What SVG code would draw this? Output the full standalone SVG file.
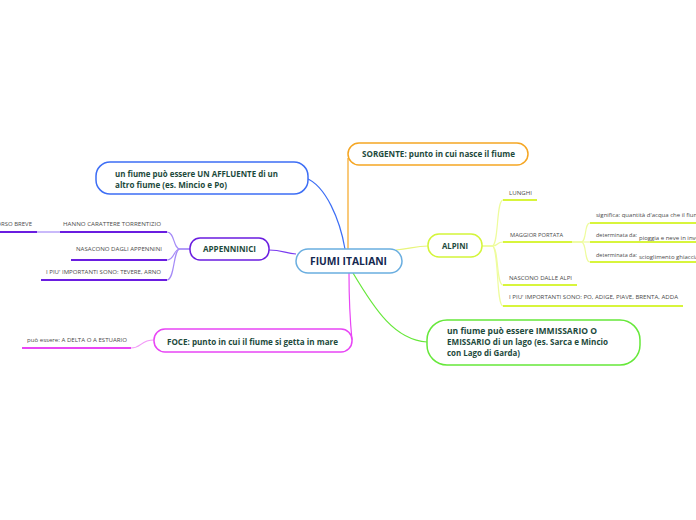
<svg xmlns="http://www.w3.org/2000/svg" width="696" height="520" viewBox="0 0 696 520">
<style>
.node{fill:#fff;stroke-width:1.5}
.t{font-family:"Open Sans","Liberation Sans",sans-serif;font-weight:bold;fill:#1d4a3c;font-size:8.5px}
.c{font-family:"Open Sans","Liberation Sans",sans-serif;font-weight:bold;fill:#14284f;font-size:10px}
.s{font-family:"Open Sans","Liberation Sans",sans-serif;fill:#4a4a4a;font-size:6px}
.conn{fill:none;stroke-width:1.2}
.ul{fill:none;stroke-width:2}
</style>
<rect width="696" height="520" fill="#fff"/>
<g id="connectors">
<path class="conn" stroke="#3d6ef5" stroke-width="1.5" d="M306,178 C326,186 340,220 345,249"/>
<path class="conn" stroke="#f5a623" stroke-width="1.5" d="M348,249 V158"/>
<path class="conn" stroke="#7b3cf0" d="M269,250 C282,250 285,253 296,254"/>
<path class="conn" stroke="#e8f57a" d="M396,250 C410,249 415,246 428,246"/>
<path class="conn" stroke="#66e83a" stroke-width="1.5" d="M353,273 C375,310 395,340 427,342"/>
<path class="conn" stroke="#e845f5" stroke-width="1.5" d="M349,273 C349,300 351,330 352,340"/>
<path class="conn" stroke="#a58bf7" d="M190,249 H180 C173,249 175,232 167,232"/>
<path class="conn" stroke="#a58bf7" d="M190,249 H180 C173,249 175,260 167,260"/>
<path class="conn" stroke="#a58bf7" d="M190,249 H180 C173,249 175,280 167,280"/>
<path class="conn" stroke="#a58bf7" d="M60,232 H37"/>
<path class="conn" stroke="#eefc9c" d="M482,246 H492 C499,246 496,200 503,200"/>
<path class="conn" stroke="#eefc9c" d="M482,246 H492 C499,246 496,242 503,242"/>
<path class="conn" stroke="#eefc9c" d="M482,246 H492 C499,246 496,285 503,285"/>
<path class="conn" stroke="#eefc9c" d="M482,246 H492 C499,246 496,306 503,306"/>
<path class="conn" stroke="#eefc9c" d="M572,242 H581 C587,242 584,223 590,223"/>
<path class="conn" stroke="#eefc9c" d="M572,242 H590"/>
<path class="conn" stroke="#eefc9c" d="M572,242 H581 C587,242 584,262 590,262"/>
<path class="conn" stroke="#f29af7" d="M154,340 C140,340 142,348 131,348"/>
</g>
<g id="n-center">
<rect class="node" stroke="#6aaee0" x="296" y="249" width="106" height="24" rx="12"/>
<text class="c" x="310" y="265" textLength="77" lengthAdjust="spacingAndGlyphs">FIUMI ITALIANI</text>
</g>
<g id="n-sorgente">
<rect class="node" stroke="#f5a623" x="348" y="143" width="180" height="22" rx="11"/>
<text class="t" x="362" y="157" textLength="153" lengthAdjust="spacingAndGlyphs">SORGENTE: punto in cui nasce il fiume</text>
</g>
<g id="n-affluente">
<rect class="node" stroke="#3d6ef5" x="96" y="162" width="212" height="32" rx="14"/>
<text class="t" x="115" y="177" textLength="163" lengthAdjust="spacingAndGlyphs">un fiume può essere UN AFFLUENTE di un</text>
<text class="t" x="115" y="188" textLength="112" lengthAdjust="spacingAndGlyphs">altro fiume (es. Mincio e Po)</text>
</g>
<g id="n-appennini">
<rect class="node" stroke="#6a1de0" x="190" y="238" width="79" height="22" rx="10"/>
<text class="t" x="203" y="252" textLength="53" lengthAdjust="spacingAndGlyphs">APPENNINICI</text>
</g>
<g id="n-app-1">
<path class="ul" stroke="#6a1de0" d="M60,232 H167"/>
<text class="s" x="63" y="226" textLength="98" lengthAdjust="spacingAndGlyphs">HANNO CARATTERE TORRENTIZIO</text>
</g>
<g id="n-app-1a">
<path class="ul" stroke="#6a1de0" d="M0,232 H37"/>
<text class="s" x="32" y="226" text-anchor="end">CORSO BREVE</text>
</g>
<g id="n-app-2">
<path class="ul" stroke="#6a1de0" d="M71,260 H167"/>
<text class="s" x="76" y="251" textLength="86" lengthAdjust="spacingAndGlyphs">NASACONO DAGLI APPENNINI</text>
</g>
<g id="n-app-3">
<path class="ul" stroke="#6a1de0" d="M41,280 H167"/>
<text class="s" x="46" y="274" textLength="115" lengthAdjust="spacingAndGlyphs">I PIU' IMPORTANTI SONO: TEVERE, ARNO</text>
</g>
<g id="n-alpini">
<rect class="node" stroke="#d4f53a" x="428" y="234" width="54" height="23" rx="11"/>
<text class="t" x="442" y="249" textLength="26" lengthAdjust="spacingAndGlyphs">ALPINI</text>
</g>
<g id="n-alp-1">
<path class="ul" stroke="#d8f53c" d="M503,200 H537"/>
<text class="s" x="509" y="195" textLength="23" lengthAdjust="spacingAndGlyphs">LUNGHI</text>
</g>
<g id="n-alp-2">
<path class="ul" stroke="#d8f53c" d="M503,242 H572"/>
<text class="s" x="510" y="237" textLength="53" lengthAdjust="spacingAndGlyphs">MAGGIOR PORTATA</text>
</g>
<g id="n-alp-2a">
<path class="ul" stroke="#d8f53c" d="M590,223 H696"/>
<text class="s" x="596" y="217" font-size="5.5">significa: quantità d'acqua che il fiume porta</text>
</g>
<g id="n-alp-2b">
<path class="ul" stroke="#d8f53c" d="M590,242 H696"/>
<text class="s" x="596" y="237" textLength="41" lengthAdjust="spacingAndGlyphs">determinata da:</text>
<text class="s" x="639" y="240">pioggia e neve in inverno</text>
</g>
<g id="n-alp-2c">
<path class="ul" stroke="#d8f53c" d="M590,262 H696"/>
<text class="s" x="596" y="257" textLength="41" lengthAdjust="spacingAndGlyphs">determinata da:</text>
<text class="s" x="639" y="259">scioglimento ghiacciai</text>
</g>
<g id="n-alp-3">
<path class="ul" stroke="#d8f53c" d="M503,285 H577"/>
<text class="s" x="509" y="280" textLength="63" lengthAdjust="spacingAndGlyphs">NASCONO DALLE ALPI</text>
</g>
<g id="n-alp-4">
<path class="ul" stroke="#d8f53c" d="M503,306 H683"/>
<text class="s" x="509" y="299" textLength="169" lengthAdjust="spacingAndGlyphs">I PIU' IMPORTANTI SONO: PO, ADIGE, PIAVE, BRENTA, ADDA</text>
</g>
<g id="n-immissario">
<rect class="node" stroke="#66e83a" x="427" y="320" width="213" height="45" rx="20"/>
<text class="t" x="447" y="334" textLength="150" lengthAdjust="spacingAndGlyphs">un fiume può essere IMMISSARIO O</text>
<text class="t" x="447" y="345" textLength="161" lengthAdjust="spacingAndGlyphs">EMISSARIO di un lago (es. Sarca e Mincio</text>
<text class="t" x="447" y="356" textLength="73" lengthAdjust="spacingAndGlyphs">con Lago di Garda)</text>
</g>
<g id="n-foce">
<rect class="node" stroke="#e845f5" x="154" y="329" width="198" height="23" rx="11"/>
<text class="t" x="167" y="345" textLength="171" lengthAdjust="spacingAndGlyphs">FOCE: punto in cui il fiume si getta in mare</text>
</g>
<g id="n-foce-1">
<path class="ul" stroke="#e845f5" d="M22,348 H131"/>
<text class="s" x="27" y="342" textLength="100" lengthAdjust="spacingAndGlyphs">può essere: A DELTA O A ESTUARIO</text>
</g>
</svg>
